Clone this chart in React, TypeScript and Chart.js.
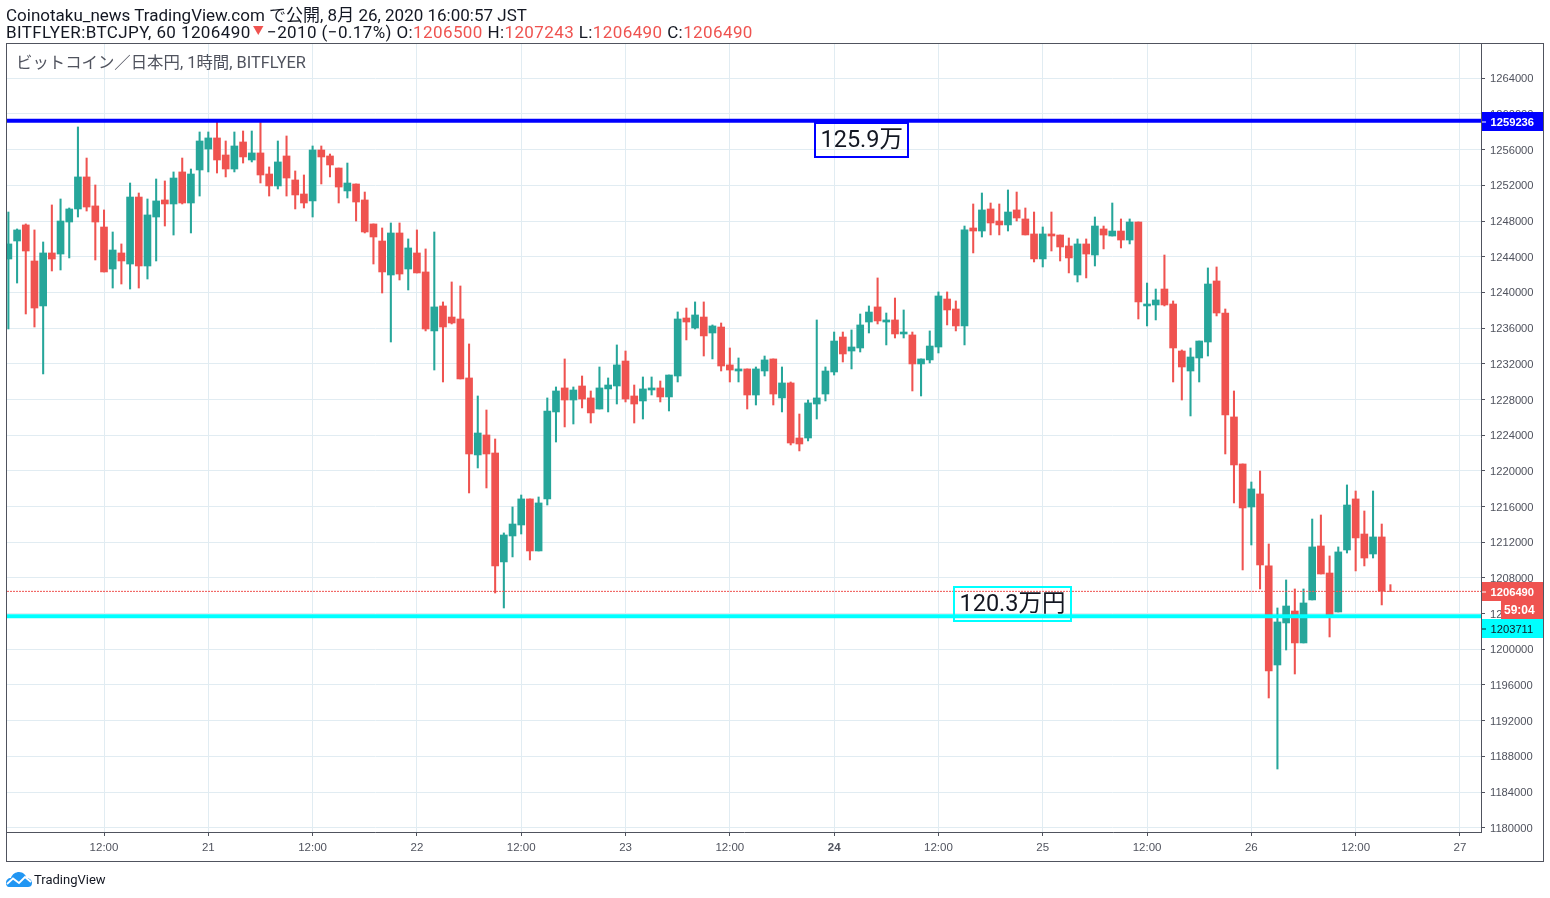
import React, { useEffect, useRef } from "react";
import { Chart, registerables } from "chart.js";

Chart.register(...registerables);

const opens = [
  1243740, 1245760, 1247560, 1243520, 1238480, 1244420, 1244300, 1247890, 1249350, 1252940,
  1249690, 1247330, 1242620, 1244420, 1243180, 1250690, 1242960, 1248450, 1250360, 1249910,
  1253500, 1250020, 1253720, 1256070, 1257310, 1255400, 1253830, 1256860, 1254840, 1255630,
  1253270, 1251930, 1255290, 1252600, 1251030, 1250250, 1255960, 1255290, 1253940, 1251370,
  1252150, 1250360, 1247670, 1245760, 1241950, 1246660, 1242620, 1244420, 1242290, 1235680,
  1238480, 1237240, 1237020, 1230410, 1221780, 1224020, 1222000, 1209790, 1212700, 1213930,
  1216850, 1211020, 1216850, 1226600, 1229290, 1227940, 1229510, 1228170, 1226930, 1229180,
  1229510, 1232310, 1228390, 1227830, 1229060, 1229290, 1228280, 1230630, 1237130, 1236010,
  1237240, 1235450, 1236120, 1231870, 1231190, 1231420, 1228500, 1231190, 1232540, 1228170,
  1229850, 1223680, 1223680, 1227490, 1228610, 1231080, 1235000, 1233430, 1233770, 1236680,
  1238370, 1236680, 1236910, 1235340, 1235230, 1231980, 1232430, 1233880, 1239260, 1238140,
  1236240, 1247220, 1246880, 1249350, 1248000, 1247560, 1249240, 1248230, 1246550, 1243750,
  1246550, 1246430, 1245200, 1241950, 1245430, 1244190, 1247110, 1246320, 1246880, 1245870,
  1247890, 1238480, 1238590, 1240380, 1238700, 1233430, 1231190, 1232650, 1234440, 1241280,
  1237690, 1226040, 1220770, 1215950, 1217410, 1209340, 1198240, 1202950, 1204290, 1200710,
  1205530, 1211580, 1208550, 1204180, 1211130, 1216850, 1212920, 1210680, 1212590, 1206500,
];

const highs = [
  1249010, 1247110, 1247670, 1247000, 1245650, 1249800, 1250470, 1249460, 1258540, 1255060,
  1252040, 1249240, 1246770, 1245430, 1252260, 1251140, 1250470, 1252710, 1252490, 1253500,
  1255060, 1253830, 1257980, 1257980, 1259236, 1256970, 1257980, 1258090, 1258090, 1259236,
  1254060, 1256970, 1257530, 1253610, 1253160, 1256410, 1256410, 1255510, 1253940, 1254500,
  1252150, 1251250, 1247670, 1247220, 1247780, 1247780, 1245990, 1247000, 1244870, 1246770,
  1238930, 1241170, 1240720, 1234220, 1228390, 1226820, 1223570, 1213040, 1215950, 1217290,
  1216850, 1217070, 1228170, 1229400, 1232540, 1229400, 1230630, 1228950, 1231640, 1230410,
  1234110, 1233430, 1229620, 1230520, 1230520, 1230070, 1230740, 1237810, 1238250, 1238930,
  1238930, 1236350, 1236570, 1233770, 1232650, 1231420, 1231640, 1232870, 1232540, 1231640,
  1229960, 1226370, 1227940, 1236910, 1231640, 1235560, 1235560, 1235790, 1237580, 1238480,
  1241620, 1237690, 1239370, 1238030, 1235560, 1232540, 1235680, 1240050, 1240050, 1239040,
  1247440, 1249910, 1251140, 1250020, 1249910, 1251480, 1251250, 1249460, 1249010, 1247330,
  1249010, 1246430, 1246100, 1245990, 1245990, 1248450, 1247440, 1250020, 1248230, 1248230,
  1247890, 1241050, 1240380, 1244190, 1239040, 1233550, 1233770, 1234550, 1242740, 1242850,
  1238140, 1228950, 1220770, 1218750, 1219980, 1211800, 1204630, 1207770, 1206760, 1206760,
  1214600, 1215050, 1210460, 1211470, 1218420, 1217740, 1215500, 1217740, 1214040, 1207243,
];

const lows = [
  1235900, 1241050, 1237580, 1236120, 1230860, 1242400, 1242510, 1243860, 1248450, 1249120,
  1243630, 1242290, 1240490, 1240940, 1240380, 1240490, 1241500, 1243520, 1247440, 1246430,
  1249910, 1246660, 1250800, 1253500, 1253380, 1252940, 1253500, 1254500, 1254620, 1252260,
  1250800, 1251590, 1250800, 1249350, 1249460, 1248450, 1252150, 1252940, 1250020, 1250580,
  1248000, 1246660, 1243180, 1239930, 1234440, 1241390, 1240270, 1242180, 1235680, 1231300,
  1229960, 1236460, 1230300, 1217520, 1220320, 1218080, 1206310, 1204630, 1210350, 1212920,
  1210010, 1211020, 1216170, 1223230, 1224920, 1225250, 1227050, 1225360, 1226930, 1226600,
  1227490, 1227720, 1225360, 1225810, 1228500, 1227720, 1226710, 1229960, 1234670, 1235900,
  1232870, 1232540, 1231190, 1229960, 1229960, 1226930, 1227380, 1230630, 1227380, 1226600,
  1222900, 1222230, 1223350, 1225810, 1227830, 1230740, 1232200, 1231420, 1233320, 1235450,
  1236460, 1234110, 1234890, 1234890, 1228950, 1228390, 1232090, 1233210, 1236350, 1235680,
  1234110, 1244420, 1246210, 1246440, 1246440, 1246880, 1248000, 1246440, 1243410, 1242850,
  1244640, 1243520, 1242180, 1241170, 1241620, 1242960, 1244870, 1246320, 1244980, 1245430,
  1237020, 1236240, 1236910, 1238480, 1229960, 1227940, 1226150, 1229960, 1232870, 1237360,
  1221890, 1216400, 1208890, 1211690, 1206760, 1194540, 1186580, 1199920, 1197230, 1200710,
  1205530, 1208440, 1201380, 1204180, 1210790, 1208780, 1209340, 1210230, 1204970, 1206490,
];

const closes = [
  1245430, 1247000, 1244640, 1238250, 1244420, 1243740, 1248000, 1249350, 1252940, 1249570,
  1247890, 1242290, 1244750, 1243520, 1250690, 1242960, 1248680, 1250250, 1249910, 1252820,
  1250020, 1253270, 1256970, 1257310, 1254840, 1253830, 1256410, 1255180, 1255630, 1253160,
  1251930, 1254620, 1252820, 1250920, 1250020, 1255960, 1255180, 1254280, 1251810, 1252260,
  1250130, 1246770, 1246210, 1242290, 1246660, 1242060, 1244980, 1242180, 1235900, 1238370,
  1236120, 1236570, 1230300, 1221890, 1224240, 1221890, 1209340, 1212810, 1214040, 1216850,
  1211020, 1216400, 1226710, 1228950, 1227940, 1229060, 1228050, 1226490, 1229290, 1229620,
  1231870, 1228050, 1227490, 1229180, 1229290, 1228280, 1230740, 1237020, 1236680, 1237470,
  1235120, 1236240, 1231750, 1231300, 1231420, 1228500, 1231420, 1232430, 1228610, 1229850,
  1223120, 1223010, 1227610, 1228170, 1231190, 1234550, 1233100, 1233880, 1236350, 1237800,
  1236800, 1236910, 1235340, 1235560, 1231980, 1232540, 1233990, 1239600, 1238030, 1236240,
  1247000, 1246880, 1249240, 1247780, 1247560, 1249010, 1248340, 1246440, 1243750, 1246550,
  1246320, 1245090, 1243860, 1245430, 1244300, 1247440, 1246430, 1246880, 1245870, 1247890,
  1238930, 1238700, 1239150, 1238590, 1233770, 1231640, 1232760, 1234550, 1240940, 1237690,
  1226260, 1220660, 1215840, 1217970, 1209450, 1197570, 1203060, 1204850, 1200710, 1205190,
  1211470, 1208440, 1203710, 1210910, 1216170, 1212480, 1210230, 1212590, 1206500, 1206490,
];

const firstHour = 1; // hours counted from Aug 20 00:00 JST
const xRange = [0.84, 170.42];
const yRange = [1179520, 1267840];

const xTickHours = [12, 24, 36, 48, 60, 72, 84, 96, 108, 120, 132, 144, 156, 168];
const xTickLabels = ["12:00", "21", "12:00", "22", "12:00", "23", "12:00", "24", "12:00", "25", "12:00", "26", "12:00", "27"];
const boldTickHour = 96;
const yTickValues = [
  1180000, 1184000, 1188000, 1192000, 1196000, 1200000, 1204000, 1208000, 1212000, 1216000, 1220000,
  1224000, 1228000, 1232000, 1236000, 1240000, 1244000, 1248000, 1252000, 1256000, 1260000, 1264000,
];

const resistanceLevel = 1259236;
const supportLevel = 1203711;
const lastPrice = 1206490;
const resistanceNote = "125.9万";
const supportNote = "120.3万円";
const countdown = "59:04";

const UP = "#26a69a";
const DOWN = "#ef5350";
const BLUE = "#0000ff";
const CYAN = "#00ffff";
const FRAME = "#50535e";
const GRID = "#e1ecf2";
const FONT = "Roboto, 'Noto Sans CJK JP', sans-serif";
const TICK_FONT = "'Liberation Sans', Roboto, sans-serif";

const colors = closes.map((c, i) => (c >= opens[i] ? UP : DOWN));
const bodies = opens.map((o, i) => ({ x: i + firstHour, y: [o, closes[i]] }));
const wicks = lows.map((l, i) => ({ x: i + firstHour, y: [l, highs[i]] }));
const levelLine = (v: number) => xRange.map((x) => ({ x, y: v }));

const overlayPlugin = {
  id: "overlay",
  beforeDraw(chart: any) {
    // price labels sit one pixel under their tick in the reference
    const y = chart.scales.y;
    if (y._labelsShifted) return;
    y._labelsShifted = true;
    const drawLabels = y.drawLabels;
    y.drawLabels = function (area: any) {
      chart.ctx.save();
      chart.ctx.translate(0, 1);
      drawLabels.call(y, area);
      chart.ctx.restore();
    };
  },
  afterDraw(chart: any) {
    const { ctx, scales, chartArea } = chart;
    const y = scales.y;
    const axisX = chartArea.right;
    const axisEnd = 1543;
    ctx.save();

    // outer frame
    ctx.strokeStyle = FRAME;
    ctx.lineWidth = 1;
    ctx.strokeRect(6.5, 43.5, 1537, 818);

    const tag = (left: number, top: number, h: number, fill: string, text: string, color: string, weight: string, size: number, textX: number, tickColor?: string) => {
      ctx.fillStyle = fill;
      ctx.fillRect(left, top, axisEnd - left, h);
      if (tickColor) {
        ctx.fillStyle = tickColor;
        ctx.fillRect(axisX + 1, Math.round(top + h / 2) - 0.5, 4, 1);
      }
      ctx.fillStyle = color;
      ctx.font = `${weight} ${size}px ${TICK_FONT}`;
      ctx.textAlign = "left";
      ctx.textBaseline = "middle";
      ctx.fillText(text, textX, top + h / 2 + 1);
    };

    const py = (v: number) => y.getPixelForValue(v);
    tag(axisX + 1, Math.round(py(resistanceLevel)) - 9, 19, BLUE, String(resistanceLevel), "#ffffff", "bold", 11.2, 1490.500, "#ffffff");
    tag(axisX + 1, Math.round(py(lastPrice)) - 9, 19, DOWN, String(lastPrice), "#ffffff", "bold", 11.2, 1490.500, "#ffffff");
    tag(1501, Math.round(py(lastPrice)) + 10, 18, DOWN, countdown, "#ffffff", "bold", 12, 1504, undefined);
    tag(axisX + 1, Math.round(py(lastPrice)) + 28, 19, CYAN, String(supportLevel), "#131722", "normal", 11.2, 1490.500, "#131722");

    // text boxes of the drawn levels
    const note = (left: number, top: number, w: number, h: number, color: string, text: string) => {
      ctx.strokeStyle = color;
      ctx.lineWidth = 2;
      ctx.strokeRect(left, top, w, h);
      ctx.fillStyle = "#131722";
      ctx.font = `23.5px ${FONT}`;
      ctx.textAlign = "left";
      ctx.textBaseline = "middle";
      ctx.fillText(text, left + 5.5, top + h / 2 + 1);
    };
    note(815, 123, 93, 34, BLUE, resistanceNote);
    note(954, 587, 117, 34, CYAN, supportNote);
    ctx.restore();
  },
};

function TvLogo() {
  return (
    <svg width="28" height="17" viewBox="0 0 28 17" style={{ position: "absolute", left: 5, top: 871 }}>
      <path
        d="M1 12 C1 9 3 7 6 7 C7 3 11 1 14 1 C18 1 21 4 21.500 7 C25 7 27 9.500 27 12 C27 15 25 16 23 16 L4 16 C2 16 1 14 1 12 Z"
        fill="#2196f3"
      />
      <polyline points="2,13 8,7.500 14,12 20,6 26,11" fill="none" stroke="#ffffff" strokeWidth="1.800" />
    </svg>
  );
}

const red = { color: DOWN };

export default function App() {
  const ref = useRef<HTMLCanvasElement | null>(null);

  useEffect(() => {
    if (!ref.current) return;
    const chart = new Chart(ref.current, {
      type: "bar",
      data: {
        datasets: [
          { type: "line", data: levelLine(resistanceLevel), borderColor: BLUE, borderWidth: 4, pointRadius: 0, order: 1 },
          { type: "line", data: levelLine(supportLevel), borderColor: CYAN, borderWidth: 4, pointRadius: 0, order: 1 },
          { type: "line", data: levelLine(lastPrice), borderColor: DOWN, borderWidth: 1, borderDash: [2, 1], pointRadius: 0, order: 2 },
          { type: "bar", data: bodies, backgroundColor: colors, barThickness: 7, grouped: false, borderWidth: 0, borderSkipped: false, order: 3 },
          { type: "bar", data: wicks, backgroundColor: colors, barThickness: 1.4, grouped: false, borderWidth: 0, borderSkipped: false, order: 4 },
        ] as any,
      },
      options: {
        animation: false,
        responsive: false,
        devicePixelRatio: 1,
        layout: { padding: { left: 7, right: 7, top: 44, bottom: 37 } },
        plugins: { legend: { display: false }, tooltip: { enabled: false }, title: { display: false } },
        scales: {
          x: {
            type: "linear",
            offset: false,
            min: xRange[0],
            max: xRange[1],
            afterBuildTicks: (s: any) => {
              s.ticks = xTickHours.map((value) => ({ value }));
            },
            afterFit: (s: any) => {
              s.height = 29;
            },
            grid: { offset: false, color: GRID, lineWidth: 1, tickColor: FRAME, tickLength: 4, drawTicks: true },
            border: { color: FRAME, width: 1 },
            ticks: {
              autoSkip: false,
              maxRotation: 0,
              padding: 5,
              color: FRAME,
              font: (c: any) => ({ family: TICK_FONT, size: 11.5, weight: c.tick && c.tick.value === boldTickHour ? "bold" : "normal" }),
              callback: (v: any) => xTickLabels[xTickHours.indexOf(Number(v))] ?? "",
            },
          },
          y: {
            type: "linear",
            position: "right",
            min: yRange[0],
            max: yRange[1],
            afterBuildTicks: (s: any) => {
              s.ticks = yTickValues.map((value) => ({ value }));
            },
            afterFit: (s: any) => {
              s.width = 62;
            },
            grid: { color: GRID, lineWidth: 1, tickColor: FRAME, tickLength: 4, drawTicks: true },
            border: { color: FRAME, width: 1 },
            ticks: {
              autoSkip: false,
              padding: 5,
              color: FRAME,
              font: { family: TICK_FONT, size: 11.2 },
              callback: (v: any) => String(v),
            },
          },
        },
      } as any,
      plugins: [overlayPlugin],
    });
    return () => chart.destroy();
  }, []);

  return (
    <div style={{ position: "absolute", left: 0, top: 0, width: 1550, height: 898, overflow: "hidden", background: "#ffffff", fontFamily: FONT, color: "#131722" }}>
      <canvas ref={ref} width={1550} height={898} style={{ position: "absolute", left: 0, top: 0, width: 1550, height: 898 }} />
      <div style={{ position: "absolute", left: 6, top: 6, fontSize: 17, lineHeight: "18px", whiteSpace: "nowrap" }}>
        Coinotaku_news TradingView.com で公開, 8月 26, 2020 16:00:57 JST
      </div>
      <div style={{ position: "absolute", left: 6, top: 23, fontSize: 17, letterSpacing: 0.4, lineHeight: "18px", whiteSpace: "nowrap" }}>
        BITFLYER:BTCJPY, 60 1206490<span style={{ color: DOWN, fontSize: 11, verticalAlign: 3, margin: "0 3px 0 2px" }}>▼</span>−2010 (−0.17%) O:<span style={red}>1206500</span> H:<span style={red}>1207243</span> L:<span style={red}>1206490</span> C:<span style={red}>1206490</span>
      </div>
      <div style={{ position: "absolute", left: 16, top: 54, fontSize: 16.4, lineHeight: "18px", color: FRAME, whiteSpace: "nowrap" }}>
        ビットコイン／日本円, 1時間, BITFLYER
      </div>
      <TvLogo />
      <div style={{ position: "absolute", left: 34, top: 872, fontSize: 13, lineHeight: "16px", color: "#131722", whiteSpace: "nowrap" }}>
        TradingView
      </div>
    </div>
  );
}
